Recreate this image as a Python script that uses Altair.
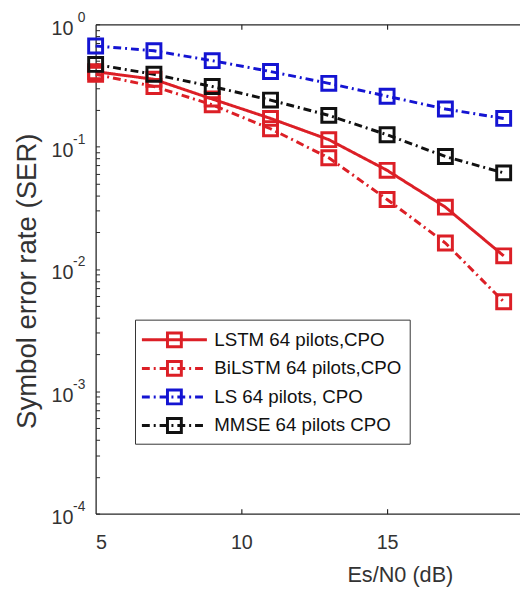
import altair as alt
import pandas as pd

# ---------------- data ----------------
snr = [5, 7, 9, 11, 13, 15, 17, 19]
lstm = [0.41, 0.355, 0.245, 0.17, 0.114, 0.064, 0.032, 0.0128]
bilstm = [0.39, 0.31, 0.22, 0.14, 0.081, 0.037, 0.0163, 0.0054]
ls = [0.665, 0.607, 0.504, 0.411, 0.329, 0.258, 0.203, 0.170]
mmse = [0.47, 0.39, 0.31, 0.24, 0.18, 0.125, 0.083, 0.061]

series_names = ["LSTM 64 pilots,CPO", "BiLSTM 64 pilots,CPO",
                "LS 64 pilots, CPO", "MMSE 64 pilots CPO"]
series_values = [lstm, bilstm, ls, mmse]
series_colors = ["#dc1f26", "#dc1f26", "#1414d2", "#111111"]
series_dashes = [[1, 0], [8, 4, 2, 4], [8, 4, 2, 4], [8, 4, 2, 4]]
# separate keys for the marker legend so Vega-Lite does not merge it with the line legend
marker_keys = [n + " " for n in series_names]

x_ticks = [5, 10, 15]
x_inner_ticks = [10, 15]
y_major = [1e-4, 1e-3, 1e-2, 1e-1, 1.0]
y_minor = [m * 10.0 ** k for k in range(-4, 0) for m in range(1, 10)] + [1.0]

rows = []
for name, mkey, vals in zip(series_names, marker_keys, series_values):
    for xv, yv in zip(snr, vals):
        rows.append({"snr": xv, "ser": yv, "series": name, "marker": mkey})
df = pd.DataFrame(rows)

FONT = "Liberation Sans"
W, H = 431, 497
xs = alt.Scale(domain=[5, 19.56], nice=False, zero=False)
ys = alt.Scale(type="log", domain=[1e-4, 1], nice=False)

leg_common = dict(
    orient="none", legendX=40, legendY=300, title=None,
    symbolSize=484, symbolStrokeWidth=3, symbolOffset=19.5,
    labelOffset=28, labelFontSize=19, labelFont=FONT, labelLimit=400,
    padding=8,
)
line_legend = alt.Legend(symbolType="M-3,0H3", strokeColor="#333333",
                         fillColor="white", labelColor="#111111", zindex=1,
                         rowPadding=6, **leg_common)
mark_legend = alt.Legend(symbolType="M-0.64,-0.64H0.64V0.64H-0.64Z",
                         symbolFillColor="transparent", labelOpacity=0,
                         zindex=2, rowPadding=2, **leg_common)

main_x_axis = alt.Axis(
    orient="bottom", values=x_ticks, format="d", ticks=False, tickSize=0,
    labelFontSize=20, labelPadding=19, labelColor="#333333", labelFont=FONT,
    domain=True, domainColor="#262626", domainWidth=1.3,
    title="Es/N0 (dB)", titleFontSize=22, titleFont=FONT, titleFontWeight="normal",
    titleColor="#333333", titleX=309, titleY=69, titleBaseline="alphabetic",
    titleAlign="center",
)
main_y_axis = alt.Axis(
    orient="left", values=y_major, labelExpr="'10'", ticks=False, tickSize=0,
    labelFontSize=20, labelPadding=23, labelOffset=4, labelBaseline="middle",
    labelColor="#333333", labelFont=FONT,
    domain=True, domainColor="#262626", domainWidth=1.3,
    title="Symbol error rate (SER)", titleFontSize=28, titleFont=FONT,
    titleFontWeight="normal", titleColor="#333333", titleAngle=270,
    titleX=-61, titleY=260.5, titleBaseline="alphabetic", titleAlign="center",
)

lines = alt.Chart(df).mark_line(strokeWidth=3).encode(
    x=alt.X("snr:Q", scale=xs, axis=main_x_axis),
    y=alt.Y("ser:Q", scale=ys, axis=main_y_axis),
    color=alt.Color("series:N", scale=alt.Scale(domain=series_names, range=series_colors),
                    legend=line_legend),
    strokeDash=alt.StrokeDash("series:N",
                              scale=alt.Scale(domain=series_names, range=series_dashes),
                              legend=line_legend),
)

points = alt.Chart(df).mark_point(shape="square", filled=False, size=200,
                                  strokeWidth=3, opacity=1).encode(
    x=alt.X("snr:Q", scale=xs, axis=None),
    y=alt.Y("ser:Q", scale=ys, axis=None),
    stroke=alt.Stroke("marker:N", scale=alt.Scale(domain=marker_keys, range=series_colors),
                      legend=mark_legend),
)

expo = alt.Chart(df).mark_point(opacity=0).encode(
    x=alt.X("snr:Q", scale=xs, axis=None),
    y=alt.Y("ser:Q", scale=ys, axis=alt.Axis(
        orient="left", values=y_major,
        labelExpr="'' + round(log(datum.value) / LN10)",
        ticks=False, tickSize=0, domain=False, title=None,
        labelFontSize=14, labelPadding=11, labelOffset=-7, labelBaseline="middle",
        labelColor="#333333", labelFont=FONT)),
)

inner_ticks = alt.Chart(df).mark_point(opacity=0).encode(
    x=alt.X("snr:Q", scale=xs, axis=alt.Axis(
        orient="top", offset=-H, values=x_inner_ticks, labels=False, domain=False,
        ticks=True, tickSize=5, tickColor="#262626", tickWidth=1.2, title=None)),
    y=alt.Y("ser:Q", scale=ys, axis=alt.Axis(
        orient="right", offset=-W, values=y_minor, labels=False, domain=False,
        ticks=True, tickSize=4, tickColor="#262626", tickWidth=1, title=None)),
)

top_border = alt.Chart(df).mark_point(opacity=0).encode(
    x=alt.X("snr:Q", scale=xs, axis=alt.Axis(
        orient="bottom", offset=-H, values=x_inner_ticks, labels=False,
        domain=True, domainColor="#262626", domainWidth=1.3,
        ticks=True, tickSize=5, tickColor="#262626", tickWidth=1.2, title=None)),
    y=alt.Y("ser:Q", scale=ys, axis=None),
)

chart = alt.layer(lines, points, expo, inner_ticks, top_border).resolve_scale(
    x="independent", y="independent"
).properties(
    width=W, height=H,
    autosize=alt.AutoSizeParams(type="none"),
    padding={"left": 89, "top": 12, "right": 0, "bottom": 71},
    background="white",
).configure_view(stroke=None).configure_axis(grid=False)

chart.save("out.html", embed_options={"renderer": "svg", "actions": False})
